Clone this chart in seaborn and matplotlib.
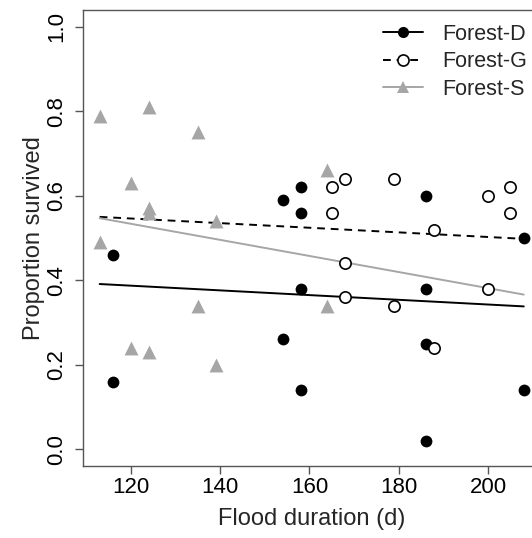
import numpy as np
import pandas as pd
import matplotlib
matplotlib.use("Agg")
import matplotlib.pyplot as plt
import seaborn as sns
from matplotlib.lines import Line2D

# ---- data ----
x_D = [116, 116, 154, 158, 158, 158, 154, 158, 186, 186, 186, 186, 208, 208]
y_D = [0.46, 0.16, 0.59, 0.62, 0.56, 0.38, 0.26, 0.14, 0.60, 0.38, 0.25, 0.02, 0.50, 0.14]

x_G = [165, 168, 165, 179, 188, 200, 205, 205, 168, 168, 179, 200, 188]
y_G = [0.62, 0.64, 0.56, 0.64, 0.52, 0.60, 0.62, 0.56, 0.44, 0.36, 0.34, 0.38, 0.24]

x_S = [113, 113, 120, 124, 124, 124, 135, 139, 120, 124, 135, 139, 164, 164]
y_S = [0.79, 0.49, 0.63, 0.81, 0.57, 0.56, 0.75, 0.54, 0.24, 0.23, 0.34, 0.20, 0.66, 0.34]

# fitted trend lines (values at both ends)
fit_x = [113, 208]
fit_D = [0.391, 0.338]
fit_G = [0.550, 0.498]
fit_S = [0.547, 0.366]

groups = ["Forest-D", "Forest-G", "Forest-S"]
x_ticks = [120, 140, 160, 180, 200]
y_ticks = [0.0, 0.2, 0.4, 0.6, 0.8, 1.0]
y_ticklabels = ["0.0", "0.2", "0.4", "0.6", "0.8", "1.0"]

df = pd.DataFrame({
    "duration": x_D + x_G + x_S,
    "survived": y_D + y_G + y_S,
    "forest": ["Forest-D"] * len(x_D) + ["Forest-G"] * len(x_G) + ["Forest-S"] * len(x_S),
})
fits = pd.DataFrame({
    "duration": fit_x * 3,
    "survived": fit_D + fit_G + fit_S,
    "forest": [g for g in groups for _ in fit_x],
})

sns.set_theme(style="white")
plt.rcParams["font.family"] = ["Liberation Sans", "DejaVu Sans"]

fig = plt.figure(figsize=(5.32, 5.38), dpi=100)
ax = fig.add_axes([82.7 / 532, 72 / 538, 458 / 532, 456 / 538])

gray = "#a6a6a6"
styles = {
    "Forest-D": dict(marker="o", face="black", edge="black", s=72, lw_m=0.0,
                     color="black", ls="-"),
    "Forest-G": dict(marker="o", face="white", edge="black", s=66, lw_m=1.2,
                     color="black", ls=(0, (4, 3))),
    "Forest-S": dict(marker="^", face=gray, edge=gray, s=100, lw_m=0.0,
                     color=gray, ls="-"),
}

for g in groups:
    st = styles[g]
    sub = df[df["forest"] == g]
    fsub = fits[fits["forest"] == g]
    sns.lineplot(data=fsub, x="duration", y="survived", ax=ax, color=st["color"],
                 linewidth=1.4, linestyle=st["ls"], zorder=2)
    sns.scatterplot(data=sub, x="duration", y="survived", ax=ax,
                    marker=st["marker"], s=st["s"], color=st["face"],
                    edgecolor=st["edge"], linewidth=st["lw_m"], zorder=3,
                    legend=False)

ax.set_xlim(109.2, 211.8)
ax.set_ylim(-0.04, 1.04)
ax.set_xticks(x_ticks)
ax.set_xticklabels([str(t) for t in x_ticks])
ax.set_yticks(y_ticks)
ax.set_yticklabels(y_ticklabels, rotation=90, va="center")

ax.tick_params(axis="both", which="both", direction="out", length=5.6, width=1,
               color="#555555", labelsize=16, labelcolor="black",
               bottom=True, left=True)
ax.tick_params(axis="x", pad=2.5)
ax.tick_params(axis="y", pad=5.5)
for sp in ax.spines.values():
    sp.set_color("#555555")
    sp.set_linewidth(1.0)

ax.set_xlabel("Flood duration (d)", fontsize=17, labelpad=7)
ax.set_ylabel("Proportion survived", fontsize=17, labelpad=1)

handles = []
for g in groups:
    st = styles[g]
    handles.append(Line2D([0], [0], color=st["color"], linestyle=st["ls"],
                          linewidth=1.4, marker=st["marker"],
                          markerfacecolor=st["face"], markeredgecolor=st["edge"],
                          markersize=8 if st["marker"] == "o" else 9,
                          markeredgewidth=1.2 if g == "Forest-G" else 0))
fig.legend(handles, groups, loc="upper right",
           bbox_to_anchor=(527 / 532, 1 - 24 / 538),
           frameon=False, fontsize=15.5, handlelength=1.86, handletextpad=0.9,
           labelspacing=0.3, borderpad=0, borderaxespad=0)

fig.savefig("out.png", dpi=100)
